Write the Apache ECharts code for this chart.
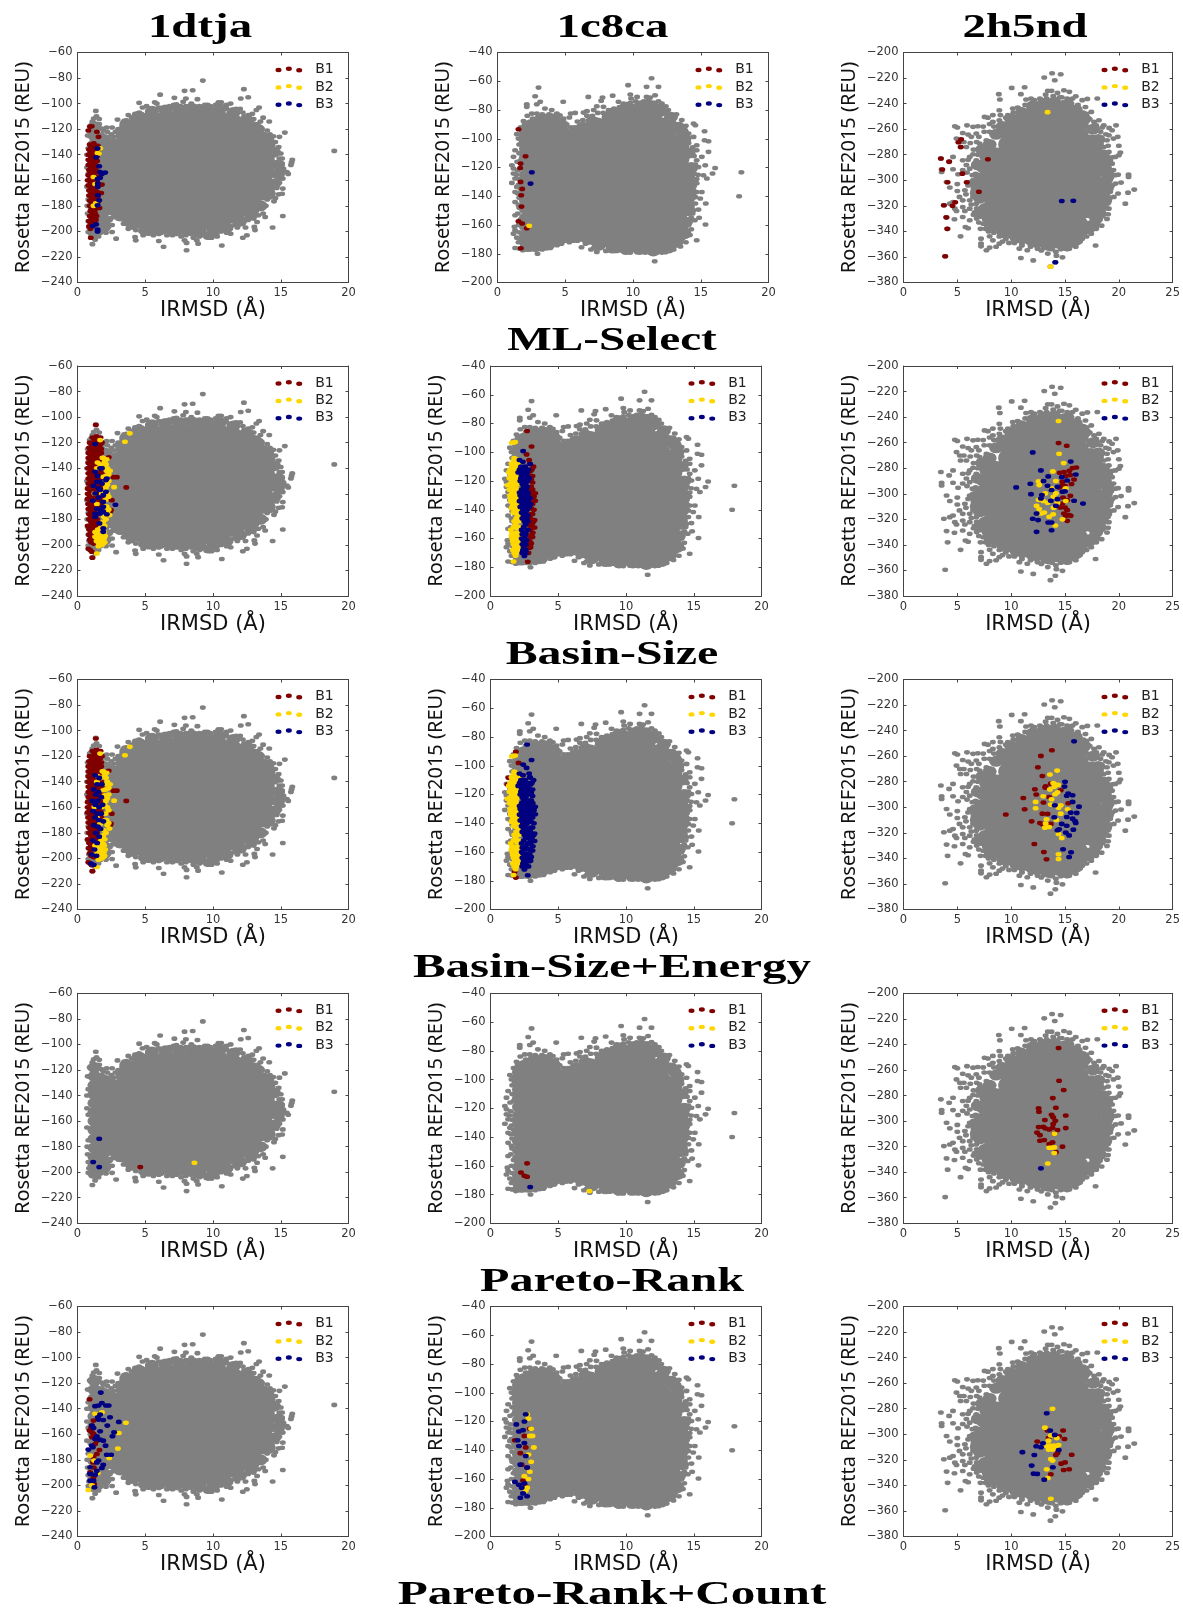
<!DOCTYPE html>
<html><head><meta charset="utf-8">
<style>html,body{margin:0;padding:0;background:#fff}#c{width:1183px;height:1608px}</style>
<script src="https://cdn.jsdelivr.net/npm/echarts@6/dist/echarts.min.js"></script>
</head><body><div id="c"></div>
<script>
const columnTitles=['1dtja','1c8ca','2h5nd'];
const rowTitles=['ML-Select','Basin-Size','Basin-Size+Energy','Pareto-Rank','Pareto-Rank+Count'];
const seriesNames=['B1','B2','B3'];
const seriesColors=['#800000','#FFD700','#000080'];
const grayColor='#808080';
const xMaxes=[20,20,25];
const yRanges=[[-240,-60],[-200,-40],[-380,-200]];

/* ---- decoy clouds: dense interior, edge band, sparse outliers ---- */
const cloudA_core=[[3,-135],[3,-145],[3,-155],[3,-165],[3,-175],[3,-181],[4.2,-120],[4.2,-130],[4.2,-140],[4.2,-150],[4.2,-160],[4.2,-170],[4.2,-180],[4.2,-187],[5.4,-114],[5.4,-124],[5.4,-134],[5.4,-144],[5.4,-154],[5.4,-164],[5.4,-174],[5.4,-184],[5.4,-192],[6.6,-113],[6.6,-123],[6.6,-133],[6.6,-143],[6.6,-153],[6.6,-163],[6.6,-173],[6.6,-183],[6.6,-191],[7.8,-113],[7.8,-123],[7.8,-133],[7.8,-143],[7.8,-153],[7.8,-163],[7.8,-173],[7.8,-183],[7.8,-191],[9,-112],[9,-122],[9,-132],[9,-142],[9,-152],[9,-162],[9,-172],[9,-182],[9,-193],[10.2,-112],[10.2,-122],[10.2,-132],[10.2,-142],[10.2,-152],[10.2,-162],[10.2,-172],[10.2,-182],[10.2,-192],[11.4,-116],[11.4,-126],[11.4,-136],[11.4,-146],[11.4,-156],[11.4,-166],[11.4,-176],[11.4,-186],[12.6,-124],[12.6,-134],[12.6,-144],[12.6,-154],[12.6,-164],[12.6,-174],[12.6,-179],[13.6,-134],[13.6,-144],[13.6,-154],[13.6,-164],[13.6,-168]];
const cloudA_edge=[[1.25,-118],[1.25,-125],[1.25,-132],[1.25,-139],[1.25,-146],[1.25,-153],[1.25,-160],[1.25,-167],[1.25,-174],[1.25,-181],[1.25,-188],[1.25,-195],[1.25,-201],[2,-128],[2,-135],[2,-142],[2,-149],[2,-156],[2,-163],[2,-170],[2,-177],[2,-184],[2,-191],[2,-196],[2.5,-135],[2.5,-145],[2.5,-155],[2.5,-165],[2.5,-175],[2.5,-181],[3.6,-116],[4.5,-110],[5.5,-106],[6.5,-105],[7.5,-105],[8.5,-104],[9.5,-104],[10.5,-104],[11.5,-107],[12.5,-113],[13.3,-120],[14,-128],[14.5,-138],[14.8,-148],[14.8,-155],[14.5,-163],[14.1,-171],[13.5,-180],[12.8,-187],[12,-192],[11,-197],[10,-201],[9,-201],[8,-199],[7,-199],[6,-199],[5,-199],[4,-194],[3.2,-188],[3.3,-125],[3.9,-117],[3.4,-187],[4,-189],[12.9,-118],[13.6,-126]];
const cloudA_dots=[[9.25,-82],[12.28,-88.7],[12.6,-95],[12.05,-96],[7.9,-90],[8.5,-89.5],[6.1,-93],[7.15,-95.5],[8,-96],[7.8,-98.6],[8.4,-100],[8.85,-96.5],[10.4,-99],[10.6,-99],[4.55,-99.4],[5.7,-99],[5.85,-100],[5.1,-102],[4.8,-103],[7.1,-101],[7.3,-100.5],[9.4,-101],[11,-101],[11.3,-100],[12,-104],[11.75,-105],[13.2,-105],[13.4,-103],[12.6,-109],[12.9,-108],[14.15,-114],[13.7,-111],[13.6,-119.5],[14.2,-124],[14.45,-125.5],[14.9,-126],[15.3,-122.7],[14.85,-134],[15.1,-143],[14.85,-147],[15.85,-144],[15.8,-146],[15.75,-148],[15.2,-151],[15.45,-153.5],[15.55,-155],[18.95,-137],[14.95,-158.7],[15.15,-158.7],[14.7,-166],[15.15,-166.5],[15.1,-170.5],[14.85,-171],[14.6,-174],[14.2,-173],[14.5,-176.5],[15.15,-188],[14.4,-197],[13.7,-186],[13.85,-188.7],[13.35,-187.4],[13.25,-192.6],[13.1,-199],[13.05,-196.5],[12.5,-203],[12.2,-205],[11.3,-201.8],[10.65,-211],[9.65,-205],[9.5,-204.5],[8.9,-209.6],[8.8,-207],[8.55,-205],[8.05,-214.8],[8.05,-209],[7.9,-207],[7.65,-204],[6.35,-212],[6,-207.5],[6.85,-201.8],[6.6,-203],[4.25,-204.4],[4.3,-207],[4.85,-203],[5.25,-201.8],[2.85,-205.7],[2.55,-200.5],[2.55,-195],[2.15,-198],[1.55,-204],[1.3,-206.5],[1.1,-210],[.8,-200.5],[1.05,-203],[3.75,-198],[3.4,-194],[2.8,-188.7],[3,-190],[2.55,-182],[2.95,-112.5],[2.55,-118.7],[2.15,-118.7],[1.8,-119.5],[1.35,-105.7],[1.2,-111.7],[2.65,-126],[2.4,-128.7],[3.45,-113.5],[3.75,-109],[4.25,-108],[4.55,-107],[.8,-135],[.8,-155],[.8,-175],[.75,-186],[.85,-125],[1.6,-116],[1.8,-124],[3.2,-121],[3.5,-193],[4.7,-200],[5.6,-203],[6.2,-201],[7.3,-202],[8.4,-202],[9.9,-205],[10.3,-204],[11,-201],[11.8,-197],[12.4,-197],[13,-190],[13.9,-180],[14.3,-168],[14.9,-162],[6,-103],[6.8,-102],[7.6,-102],[8.2,-102],[9.8,-102],[10.2,-101],[10.9,-103],[12.2,-107],[13,-112],[13.5,-114],[14,-121],[14.6,-130],[15,-139],[15.1,-152],
[3.3,-118],[3.6,-113],[4,-111],[4.3,-109],[3,-120],[2.8,-122],[2.5,-124],[2.2,-122],[1.9,-121],[1.6,-112],[1.4,-110],[1.1,-114],[.9,-118],[.75,-125],[.7,-140],[.7,-150],[.7,-165],[.72,-180],[.8,-192],[.85,-197],[1.3,-203],[1.7,-201],[2.1,-201],[2.4,-191],[2.6,-189],[2.7,-184],[3.3,-186],[3.6,-190],[4,-197],[4.3,-199],[4.5,-196],[5,-201],[5.5,-201],[6,-202],[6.5,-200],[7,-203],[7.5,-201],[8,-203],[8.5,-200],[9,-204],[9.5,-202],[10.6,-200],[11.2,-198],[11.6,-195],[12.2,-194],[12.6,-191],[13.2,-184],[13.6,-178],[14,-175],[14.4,-170],[14.7,-160],[15,-155],[15,-150],[15.1,-147],[14.9,-143],[14.7,-139],[14.4,-133],[14.2,-128],[13.8,-124],[13.3,-116],[12.8,-112],[12.3,-110],[11.7,-104],[11,-104],[10.5,-102],[9.6,-101],[9,-102],[8.6,-103],[8,-102],[7,-103],[6.3,-104],[5.6,-104],[5.2,-106],[4.7,-108]];

const cloudB_core=[[2.8,-94],[2.8,-103],[2.8,-112],[2.8,-121],[2.8,-130],[2.8,-139],[2.8,-148],[2.8,-157],[2.8,-166],[2.8,-169],[4,-92],[4,-101],[4,-110],[4,-119],[4,-128],[4,-137],[4,-146],[4,-155],[4,-164],[4,-167],[5.2,-106],[5.2,-115],[5.2,-124],[5.2,-133],[5.2,-142],[5.2,-151],[5.2,-160],[6.4,-100],[6.4,-109],[6.4,-118],[6.4,-127],[6.4,-136],[6.4,-145],[6.4,-154],[6.4,-163],[7.6,-94],[7.6,-103],[7.6,-112],[7.6,-121],[7.6,-130],[7.6,-139],[7.6,-148],[7.6,-157],[7.6,-166],[7.6,-169],[8.8,-90],[8.8,-99],[8.8,-108],[8.8,-117],[8.8,-126],[8.8,-135],[8.8,-144],[8.8,-153],[8.8,-162],[8.8,-171],[10,-86],[10,-95],[10,-104],[10,-113],[10,-122],[10,-131],[10,-140],[10,-149],[10,-158],[10,-167],[10,-172],[11.2,-84],[11.2,-93],[11.2,-102],[11.2,-111],[11.2,-120],[11.2,-129],[11.2,-138],[11.2,-147],[11.2,-156],[11.2,-165],[11.2,-172],[12.4,-92],[12.4,-101],[12.4,-110],[12.4,-119],[12.4,-128],[12.4,-137],[12.4,-146],[12.4,-155],[12.4,-164],[12.4,-172],[13.2,-105],[13.2,-114],[13.2,-123],[13.2,-132],[13.2,-141],[13.2,-150],[13.2,-159],[13.2,-165]];
const cloudB_edge=[[2.1,-95],[2.1,-101],[2.1,-107],[2.1,-113],[2.1,-119],[2.1,-125],[2.1,-131],[2.1,-137],[2.1,-143],[2.1,-149],[2.1,-155],[2.1,-161],[2.1,-167],[2.1,-172],[2.5,-90],[3.2,-87],[4,-86],[4.7,-90],[5,-97],[5.6,-100],[6,-96],[6.7,-93],[7.4,-89],[8.2,-85],[9,-82],[9.8,-79],[10.6,-77],[11.4,-77],[12,-81],[12.8,-85],[13.3,-92],[13.8,-100],[14.1,-110],[14.3,-120],[14.3,-130],[14.2,-140],[14.1,-150],[13.9,-158],[13.8,-166],[13.2,-172],[12.6,-176],[11.5,-178],[10.5,-177],[9.5,-177],[8.5,-176],[7.5,-174],[6.7,-170],[6,-168],[5.2,-168],[4.5,-171],[3.6,-174],[2.8,-175],[2.2,-175],[3,-89],[3.6,-88],[4.3,-88],[5.6,-96],[6.3,-92],[7,-88],[8.5,-82],[9.5,-78],[13.6,-95],[14.1,-125],[14,-145],[14.1,-135]];
const cloudB_dots=[[11.37,-57.9],[9.64,-62.7],[11,-63.9],[11.88,-63.9],[11.63,-69.7],[3.03,-64.4],[2.78,-70.4],[3.15,-74.3],[2.9,-76],[2.16,-76],[2.16,-77.8],[4.85,-74.3],[6.7,-70.9],[7.75,-71.3],[7.65,-73.6],[8.5,-70],[9.8,-69.2],[9.86,-72],[10.3,-70.9],[11,-70.9],[11.27,-71.3],[11.15,-73.2],[11.88,-73.9],[12.13,-75.5],[12.42,-77.4],[8.93,-74.3],[9.3,-75.5],[7.33,-77.4],[7.82,-77.8],[6.6,-80.8],[7.1,-80],[6.35,-81.8],[5.4,-82.5],[5.73,-82],[5.3,-85.2],[4,-80],[4.38,-82.5],[3.5,-79],[2.9,-82.5],[2.53,-82.5],[4.6,-83.6],[4.87,-86],[1.92,-87.6],[1.43,-96.8],[1.55,-99.9],[1.3,-108],[1.18,-112.6],[1.06,-118.4],[1.18,-120.7],[1.06,-130.7],[1.3,-127.7],[1.18,-124.2],[1.3,-137],[1.43,-133.5],[1.3,-144],[1.3,-153.2],[1.25,-161.3],[1.18,-166],[1.43,-168.8],[1.3,-163.7],[1.3,-176],[1.6,-176.4],[1.87,-177.6],[2.95,-180],[3.64,-175.3],[4,-174.8],[4.72,-173],[6.2,-175.5],[6.9,-177],[7.33,-178.7],[8.3,-177.6],[9.05,-177.6],[9.8,-179.2],[10.9,-179.2],[11.6,-185.2],[12.13,-179.2],[12.8,-177],[13.6,-169.7],[14.7,-170.6],[15.35,-159.7],[14.56,-156.7],[14.88,-155],[14.47,-149.7],[14.34,-147.4],[14.83,-149.3],[15.37,-145],[14.96,-141.6],[14.6,-140.5],[15.08,-137],[14.47,-135.8],[17.83,-140],[18,-123.3],[16.06,-120.3],[15.87,-124.2],[15.45,-127.7],[15.2,-125.4],[14.83,-119.6],[15.33,-118.4],[15.57,-109.1],[15.08,-112.6],[14.7,-108],[15.57,-101.7],[15.28,-101],[15.28,-94.8],[14.47,-89.4],[14.6,-90.6],[13.6,-87],[14.1,-96.4],[13.85,-95.2],[14.47,-98.7],[14.7,-104.5],[13,-84.8],[12.42,-82.5],[1.6,-104],[1.7,-115],[1.5,-122],[1.6,-128],[1.7,-135],[1.6,-141],[1.6,-148],[1.7,-156],[1.55,-172],[2,-90],[3.3,-83],[3.9,-84],[14.7,-115],[14.8,-125],[14.7,-131],[14.6,-145],[14.3,-155],[14.3,-163],[13.5,-175],[12.4,-179],[3.3,-177],[5,-171],[5.6,-171],[6.5,-173],
[2.2,-84],[2.6,-86],[3,-85],[3.4,-84],[3.8,-83],[4.2,-85],[4.5,-87],[4.8,-89],[5.1,-90],[5.4,-92],[5.7,-92],[5.9,-88],[6.3,-87],[6.6,-84],[7,-84],[7.4,-82],[7.8,-82],[8.2,-80],[8.6,-79],[9,-78],[9.4,-76],[9.8,-75],[10.2,-74],[10.8,-74],[11.6,-75],[12,-77],[12.6,-80],[13.2,-83],[13.5,-90],[13.9,-91],[14.1,-103],[14.4,-106],[14.5,-112],[14.6,-118],[14.5,-124],[14.7,-128],[14.5,-133],[14.7,-137],[14.3,-143],[14.4,-152],[14.1,-160],[14.2,-167],[13.9,-172],[13,-177],[1.9,-94],[1.8,-98],[1.75,-103],[1.6,-110],[1.45,-116],[1.4,-125],[1.55,-132],[1.5,-138],[1.55,-146],[1.5,-152],[1.55,-160],[1.6,-165],[1.7,-170],[1.9,-174],[2.4,-177],[3.9,-176],[4.4,-174],[5.3,-172],[5.9,-171],[6.5,-171],[7.1,-176],[8,-178],[8.8,-178],[9.4,-179],[10.3,-179],[11.2,-179],[11.8,-179],[5,-93],[1.7,-92],[1.75,-128]];

const cloudC_core=[[8.5,-282],[8.5,-292],[8.5,-302],[8.5,-312],[8.5,-322],[8.5,-328],[10,-262],[10,-272],[10,-282],[10,-292],[10,-302],[10,-312],[10,-322],[10,-332],[10,-338],[11.5,-252],[11.5,-262],[11.5,-272],[11.5,-282],[11.5,-292],[11.5,-302],[11.5,-312],[11.5,-322],[11.5,-332],[11.5,-342],[13,-247],[13,-257],[13,-267],[13,-277],[13,-287],[13,-297],[13,-307],[13,-317],[13,-327],[13,-337],[13,-345],[14.5,-246],[14.5,-256],[14.5,-266],[14.5,-276],[14.5,-286],[14.5,-296],[14.5,-306],[14.5,-316],[14.5,-326],[14.5,-336],[14.5,-346],[16,-255],[16,-265],[16,-275],[16,-285],[16,-295],[16,-305],[16,-315],[16,-325],[16,-335],[16,-338],[17.4,-272],[17.4,-282],[17.4,-292],[17.4,-302],[17.4,-312],[17.4,-322]];
const cloudC_edge=[[7.4,-290],[7.2,-298],[7,-306],[7.1,-314],[7.6,-322],[7.9,-330],[8.5,-336],[9.3,-341],[10.5,-345],[12,-348],[13.5,-351],[15,-351],[16,-347],[17,-338],[17.9,-330],[18.4,-320],[18.6,-310],[18.8,-300],[18.7,-290],[18.5,-280],[18.1,-268],[17.6,-260],[16.8,-252],[16,-245],[15,-241],[14,-239],[13,-240],[12,-242],[11,-247],[10,-252],[9.2,-258],[8.6,-264],[8,-272],[7.7,-282],[7.3,-276],[6.9,-288],[6.7,-302],[6.8,-310],[7.2,-326],[7.7,-292],[8.1,-335],[18.9,-294],[18.9,-306],[18.7,-316],[18.2,-326],[17.6,-335],[18.8,-284]];
const cloudC_dots=[[13.8,-216.2],[14.6,-217],[13.07,-219.6],[14.05,-221.7],[10.05,-227.7],[11.25,-227.2],[8.85,-232.6],[8.95,-236.8],[10.9,-232.6],[11.38,-236.8],[11.84,-236],[12.67,-236],[13.4,-230],[13.75,-230],[14.3,-231.6],[14.9,-229.5],[15.4,-230.8],[16,-234.2],[15.7,-236],[16.6,-237.3],[17.07,-236.3],[18,-236],[16.9,-242.6],[17.44,-246.5],[18.15,-253],[17.7,-254.3],[18.6,-257],[18.45,-258.7],[19.74,-257],[19.1,-259],[19.37,-260.8],[19.9,-266],[19.5,-267.4],[19.07,-264.8],[20,-273],[20.14,-278.3],[19.68,-281.7],[19.37,-287],[20,-280.4],[18.6,-274],[19.07,-277.8],[18.9,-268.7],[19.93,-295.6],[19.68,-296],[20.9,-295.6],[20.9,-297.4],[21.43,-307.3],[20.85,-309.7],[20.6,-318.3],[20.2,-301.8],[19.7,-302.6],[19.93,-310.4],[19.53,-313],[19.07,-306.5],[19.2,-313.6],[19.07,-322.2],[19,-326.6],[18.9,-330.3],[18.4,-335.5],[17.84,-351],[17.44,-336.6],[17.44,-341.8],[16.6,-345.7],[16.76,-341.8],[15.4,-353.5],[14.76,-360.3],[14.1,-364.2],[13.65,-367.6],[13.4,-357.4],[14.15,-356],[12.05,-362.7],[10.9,-360.8],[10.76,-353.5],[11.5,-354.8],[12.45,-353.5],[8.9,-349.6],[8.6,-352],[8,-352.7],[7.7,-354.8],[7.2,-345.7],[7.2,-349.6],[7.2,-351.7],[8,-343.9],[8.3,-347],[7.15,-338],[5.3,-343.9],[5.75,-336.6],[6,-337.6],[7.2,-327.4],[6.15,-331.3],[4.73,-330.5],[4,-329.2],[4.1,-338],[3.87,-359.5],[3.75,-319.6],[4.6,-317],[4.3,-318.3],[4.77,-322.2],[4.92,-324],[5.2,-313],[5.5,-315.7],[5.5,-321],[4,-301.3],[4.3,-305.7],[5,-303],[5,-308.4],[3.47,-283],[3.54,-291.4],[3.54,-293.5],[4.6,-291.4],[5.07,-295.3],[4.6,-281.7],[4.24,-285.6],[4.77,-257.7],[5,-258.7],[5.9,-257],[6.46,-258.2],[6.9,-257.7],[4.92,-267.4],[5.23,-270],[5.5,-263],[6,-264.2],[5.3,-273.9],[5.84,-273.9],[6.2,-270.8],[7.53,-250.4],[7.84,-251],[8.3,-249],[8.9,-245.2],[7.4,-258],[6.76,-263.4],[7.07,-271.3],[7.7,-268.7],[5.5,-284.3],[6.15,-281.7],[6.46,-279.6],[5.84,-288],[5.5,-292],[6.15,-290.9],[6.76,-284.3],[7.2,-276.5],[5.7,-307.8],[6.15,-301.3],[6.46,-313],[6.15,-315.7],[6.76,-318.3],[6.15,-322.2],[5.5,-328.7],[6.46,-300],[10.15,-243.9],[10.6,-243],[9.7,-249],[8.3,-254.3],[8.9,-253],[12.15,-237.3],[13.2,-233],[14.7,-235],[15.5,-238],[17,-248],[18.3,-262],[19,-290],[19.3,-298],[19,-318],[18.6,-326],[17.9,-338],[16,-352],[14.2,-359],[12.8,-355],[11,-351],[9.5,-346],[7.9,-340],[7,-333],[6.6,-325],[6.5,-306],[6.7,-295],[6.9,-280],[8,-262],[9,-256],[9.7,-255],
[5.6,-270],[6.3,-266],[6.8,-270],[6.5,-276],[7,-266],[7.5,-262],[8,-256],[8.4,-258],[6,-284],[6.6,-288],[7,-290],[5.9,-294],[6.4,-296],[6.8,-300],[6,-304],[6.5,-308],[6.9,-311],[5.8,-311],[6.3,-319],[6.8,-322],[5.7,-324],[6.5,-327],[7,-325],[6.8,-330],[7.4,-334],[7.6,-338],[8,-338],[8.4,-341],[8.9,-344],[9.2,-348],[9.8,-349],[10.3,-349],[11,-349],[11.8,-352],[12.3,-351],[13,-353],[13.8,-354],[14.6,-354],[15.2,-354],[15.8,-351],[16.4,-348],[17,-344],[17.5,-339],[18,-334],[18.5,-328],[18.9,-322],[19.1,-316],[19.2,-309],[19.4,-304],[19.3,-295],[19.5,-292],[19.2,-285],[19.4,-282],[19,-273],[18.8,-264],[18.4,-268],[17.9,-257],[17.3,-252],[16.7,-247],[16.2,-241],[15.6,-240],[15.2,-236],[14.5,-235],[13.9,-234],[13.3,-236],[12.8,-239],[12,-239],[11.3,-241],[10.8,-244],[10.2,-247],[9.5,-251],[9,-249]];

/* ---- selected points: row r (1-5), column c (1-3) ---- */
const r1c1B1=[[.98,-205],[.8,-121],[.93,-118],[1.05,-117.7],[1.43,-122],[1.55,-126],[1.8,-163.4],[1.75,-170],[1.62,-181.7],[.9,-132],[1.2,-131],[1.5,-133],[.85,-136],[1.15,-136],[1.5,-137],[.8,-140],[1.1,-140],[1.45,-141],[.8,-144],[1.15,-144],[1.45,-145],[.8,-148],[1.1,-148],[1.4,-149],[.85,-152],[1.15,-152],[1.45,-153],[.8,-156],[1.1,-156],[1.5,-157],[.75,-160],[1.1,-160],[1.45,-161],[.8,-164],[1.15,-164],[1.5,-165],[.85,-168],[1.15,-168],[1.45,-169],[.85,-172],[1.2,-172],[1.5,-173],[.9,-176],[1.2,-176],[1.5,-177],[.9,-180],[1.2,-180],[1.45,-181],[.95,-184],[1.25,-184],[.9,-188],[1.2,-188],[1.4,-188],[.85,-192],[1.15,-192],[1.35,-191],[.85,-196],[1.1,-196],[.95,-198],
[1,-134],[1.35,-134],[.95,-138],[1.3,-138],[1,-142],[1.3,-142],[.95,-146],[1.3,-146],[1,-150],[1.3,-150],[.95,-154],[1.3,-154],[.95,-158],[1.3,-158],[.95,-162],[1.3,-162],[1,-166],[1.35,-166],[1,-170],[1.35,-170],[1.05,-174],[1.35,-174],[1.05,-178],[1.35,-178],[1.05,-182],[1.35,-182],[1.1,-186],[1.05,-190],[1.3,-186],[1,-194],[1.25,-194]];
const r1c1B2=[[1.67,-135],[1.48,-138.6],[1.57,-139],[1.18,-157.4],[1.3,-163],[1.18,-180],[1.35,-178]];
const r1c1B3=[[1.48,-135],[1.38,-142],[1.6,-149],[1.67,-153.5],[2.04,-154],[1.8,-155],[1.67,-158],[1.48,-159],[1.5,-162.6],[1.48,-165],[1.5,-171.7],[1.6,-175.7],[1.48,-179.6],[1.38,-194.5],[1.13,-195.8],[1.48,-198.6],[1.48,-200]];
const r1c2B1=[[1.55,-93.4],[2.07,-112.2],[1.7,-117.3],[1.67,-120.3],[1.7,-130],[1.82,-134.9],[1.75,-139.3],[1.77,-147.2],[1.55,-157.4],[1.82,-159],[2.16,-162.3],[1.72,-176.2]];
const r1c2B2=[[2.34,-160.6]];
const r1c2B3=[[2.53,-123.3],[2.44,-131.2]];
const r1c3B1=[[5.35,-268],[5.1,-270.2],[5.32,-274],[3.47,-283],[4.24,-285.4],[3.6,-291.6],[5.47,-294.8],[4.09,-301.6],[5.87,-301.6],[7,-309],[7.84,-283.6],[4.8,-317.2],[4.55,-320],[3.75,-319.6],[3.97,-329],[4.06,-338],[3.87,-359.5]];
const r1c3B2=[[13.38,-246.7],[13.65,-367.6]];
const r1c3B3=[[14.7,-316.2],[15.77,-316],[14.1,-364.2]];

const r2c1B1=[[1.35,-106.2],[1.1,-210],[.93,-204],[1.05,-205.4],[.8,-203],[2.65,-147],[2.9,-147],[3.6,-155],[2.3,-131.5],[2.53,-165],[2.46,-172.8],[2.4,-174],[1.1,-116],[1.4,-115],[1.7,-116],[.9,-120],[1.2,-120],[1.5,-120],[1.8,-120],[.85,-124],[1.15,-124],[1.45,-124],[1.75,-125],[.8,-128],[1.1,-128],[1.4,-128],[1.75,-128],[.8,-132],[1.1,-132],[1.4,-132],[1.7,-132],[.8,-136],[1.1,-136],[1.4,-136],[1.8,-136],[.78,-140],[1.1,-140],[1.4,-140],[1.75,-140],[.8,-144],[1.1,-144],[1.4,-144],[1.8,-144],[.8,-148],[1.1,-148],[1.4,-148],[1.8,-148],[.8,-152],[1.1,-152],[1.4,-152],[1.9,-152],[.75,-156],[1.1,-156],[1.4,-156],[1.8,-156],[.75,-160],[1.1,-160],[1.4,-160],[1.8,-160],[.75,-164],[1.05,-164],[1.4,-164],[1.8,-164],[.78,-168],[1.1,-168],[1.4,-168],[1.75,-168],[.8,-172],[1.1,-172],[1.4,-172],[1.7,-172],[.85,-176],[1.15,-176],[1.45,-176],[.85,-180],[1.15,-180],[1.45,-180],[.75,-185],[1.1,-184],[1.4,-184],[.85,-188],[1.15,-188],[1.4,-188],[.85,-192],[1.1,-192],[1.35,-191],[.9,-196],[1.15,-196],
[1.25,-118],[1.55,-118],[1.05,-122],[1.35,-122],[1.65,-122],[.95,-126],[1.3,-126],[1.6,-126],[.95,-130],[1.25,-130],[1.6,-130],[.95,-134],[1.25,-134],[1.6,-134],[.95,-138],[1.25,-138],[1.6,-138],[.95,-142],[1.25,-142],[1.6,-142],[.95,-146],[1.25,-146],[1.6,-146],[.95,-150],[1.25,-150],[1.6,-150],[.95,-154],[1.25,-154],[1.6,-154],[.95,-158],[1.25,-158],[1.6,-158],[.9,-162],[1.25,-162],[1.6,-162],[.95,-166],[1.25,-166],[1.6,-166],[.95,-170],[1.25,-170],[1.55,-170],[1,-174],[1.3,-174],[1.55,-174],[1,-178],[1.3,-178],[1,-182],[1.3,-182],[1,-186],[1.3,-186],[1,-190],[1.25,-190],[1,-194],[1.25,-194],[1,-198],[1.2,-199]];
const r2c1B2=[[3.86,-112.7],[3.5,-119.3],[1.67,-118],[1.84,-131.8],[2,-135],[1.48,-135.5],[2.4,-142],[2.15,-142],[2.7,-154.8],[1.9,-146.7],[2,-150.6],[2.1,-155],[1.8,-159.7],[2.3,-162.3],[1.43,-168],[1.67,-172.8],[2.3,-172.3],[2.36,-176.7],[1.8,-183],[1.9,-188.5],[1.43,-191],[1.67,-192.4],[2.04,-193],[1.3,-193.7],[1.55,-198.4],[1.8,-200],[1.43,-206.7],[1.7,-199],[1.97,-190],[2.15,-133],[1.67,-137],[1.43,-140],[1.25,-159.7],[1.6,-195],[1.4,-197],[1.85,-196],[2,-198],[1.6,-188],[1.75,-186],[2.15,-170],[2.05,-165],
[1.9,-132],[2.1,-137],[2.2,-140],[2.3,-145],[2.1,-146],[2.3,-150],[2.2,-153],[2,-158],[2.2,-160],[2.05,-170],[2.2,-174],[1.95,-178],[2.1,-180],[1.9,-182],[2,-185],[1.85,-191],[1.5,-188],[1.3,-190],[1.5,-194],[1.75,-194],[1.95,-195],[1.65,-197],[1.9,-199],[1.55,-201]];
const r2c1B3=[[1.3,-121],[1.67,-140],[1.8,-140],[1.3,-142.8],[2.16,-148],[2.1,-149.3],[1.48,-146],[1.43,-150.6],[1.67,-150.6],[1.8,-152],[1.18,-153.7],[1.55,-155.8],[1.67,-157],[1.3,-159.7],[2.1,-158.4],[1.9,-161],[1.55,-163],[1.13,-165.5],[1.9,-166.3],[2.8,-168.6],[1.9,-170.2],[1.43,-171.5],[1.67,-172.8],[1.3,-175.4],[2.16,-176],[1.67,-175.4],[1.9,-174],[1.3,-178],[1.62,-183.2],[1.9,-187],[1.9,-189.8]];
const r2c2B1=[[2.7,-85.2],[3.03,-96],[2.66,-101.5],[2.85,-105.4],[3.17,-110],[3.1,-116.6],[3,-124],[3.3,-128.6],[3.15,-130],[3.3,-133.7],[3.1,-143],[3.25,-147.2],[3.17,-148.4],[3.25,-152.3],[3.12,-156],[3,-163.4],[2.88,-166.4],[2.75,-176.2],[2.95,-113],[3,-119],[2.9,-128],[3,-135],[3,-139],[2.95,-146],[2.9,-151],[3,-159],[2.85,-158],[2.9,-162],[2.8,-165],[2.95,-154],
[2.9,-108],[3.05,-112],[2.85,-116],[3.1,-121],[2.95,-126],[3.1,-126],[3.2,-131],[2.95,-132],[3.1,-136],[3.2,-140],[3,-143],[3.05,-150],[3.1,-152],[3.1,-159],[2.95,-166],[2.8,-170]];
const r2c2B2=[[1.57,-93.4],[1.82,-92.9],[1.7,-93.3],[1.7,-176],[1.75,-104],[1.95,-105],[1.55,-108],[1.85,-108],[2.1,-108],[1.45,-112],[1.75,-112],[2.05,-112],[1.5,-116],[1.8,-116],[2.05,-116],[1.6,-120],[1.9,-120],[1.25,-123],[1.55,-124],[1.85,-124],[1.6,-128],[1.9,-128],[1.5,-132],[1.85,-132],[1.65,-136],[1.9,-136],[1.55,-139],[1.8,-140],[2.05,-140],[1.9,-146],[2.15,-145],[1.85,-150],[2.1,-152],[1.6,-156],[1.95,-156],[1.6,-160],[1.9,-160],[2.15,-158],[1.7,-164],[2,-164],[2.15,-162],[1.75,-168],[2,-168],[1.85,-172],[1.75,-170],
[1.7,-106],[2,-110],[1.6,-110],[1.35,-114],[1.65,-114],[1.95,-114],[1.4,-118],[1.7,-118],[1.95,-118],[1.45,-122],[1.75,-122],[2,-122],[1.4,-126],[1.7,-126],[2,-126],[1.45,-130],[1.75,-130],[2.05,-130],[1.5,-134],[1.8,-134],[1.6,-138],[1.9,-138],[1.7,-142],[1.95,-143],[1.75,-148],[2.1,-148],[1.7,-152],[1.95,-153],[1.5,-154],[1.55,-158],[1.8,-158],[2.05,-160],[1.65,-162],[1.95,-162],[1.8,-166],[2.1,-166],[1.65,-168],[1.9,-170]];
const r2c2B3=[[2.41,-99.2],[2.14,-105.4],[2.39,-106.6],[2.93,-108.2],[2.5,-172.2],[2.25,-110],[2.55,-110],[2.05,-114],[2.35,-114],[2.7,-114],[2.25,-118],[2.55,-118],[2.85,-118],[2.35,-122],[2.6,-122],[2.3,-126],[2.6,-126],[2.2,-130],[2.5,-130],[2.75,-130],[2.15,-134],[2.45,-134],[2.75,-134],[2.2,-138],[2.5,-138],[2.85,-138],[2.3,-142],[2.6,-142],[2.35,-146],[2.65,-146],[2.6,-150],[2.75,-154],[2.3,-154],[2.55,-158],[2.3,-160],[2.5,-162],[2.35,-164],[2.6,-164],[2.4,-168],[2.6,-168],
[2.15,-112],[2.5,-112],[2.8,-112],[2.3,-116],[2.65,-116],[2.2,-120],[2.5,-120],[2.75,-120],[2.45,-124],[2.7,-124],[2.15,-128],[2.45,-128],[2.75,-128],[2.3,-132],[2.6,-132],[2.9,-132],[2.35,-136],[2.65,-136],[2.95,-136],[2.4,-140],[2.7,-140],[2.45,-144],[2.75,-144],[2.5,-148],[2.75,-148],[2.45,-152],[2.6,-156],[2.35,-157],[2.4,-161],[2.65,-161],[2.45,-166],[2.35,-170],[2.6,-170]];

const r3c1B1=r2c1B1;
const r3c1B2=r2c1B2;
const r3c1B3=[[1.3,-135],[1.6,-137],[1.45,-142],[1.8,-142],[1.2,-146],[1.55,-148],[1.35,-150],[1.75,-152],[1.1,-155],[1.5,-155],[1.3,-158],[1.85,-158],[1.6,-160],[1.15,-163],[1.45,-165],[1.75,-165],[1.3,-168],[1.55,-170],[1.9,-171],[1.2,-174],[1.5,-175],[1.7,-177],[1.35,-180],[1.6,-183],[1.15,-186],[1.45,-188],[1.25,-193],[1.05,-197],[1.4,-198],[1,-204],[1.2,-205]];
const r3c2B1=[[1.87,-90.3],[2.07,-98],[1.33,-108.4],[1.25,-113],[1.87,-177.8],[1.77,-173.9],[2.07,-158.3],[2.39,-106.6],[3.1,-126.3]];
const r3c2B2=r2c2B2;
const r3c2B3=r2c2B3.concat(r2c2B1);
const r3c3B1=[[13.78,-255.4],[12.76,-259.8],[12.48,-268.7],[12.9,-275.5],[13.68,-281.5],[13.2,-283.6],[13.16,-284.6],[14.6,-286.7],[12.2,-285.9],[12.33,-290],[11.13,-292.7],[13.53,-292],[13,-296.3],[15.3,-296.9],[11.25,-301.6],[9.5,-305.7],[12.9,-305],[13.38,-305.2],[11.9,-311],[12.67,-312.3],[12.9,-313.3],[13.68,-313],[12.15,-328.7],[13.04,-335],[13.28,-340.7]];
const r3c3B2=[[14.27,-271.3],[13.6,-274.4],[13.9,-281],[14.08,-282.2],[14.36,-282.5],[14,-284],[13.6,-286],[14.3,-288.3],[14.08,-289.8],[12.98,-291.4],[13.75,-293.7],[12.27,-295.8],[13.68,-297.9],[14.6,-298.4],[14.4,-300.3],[15.25,-301.6],[12.27,-300.8],[14.6,-305],[13.28,-309.4],[14.2,-310],[13.2,-312.8],[13.53,-315.4],[13.13,-316],[14.4,-320.9],[14.7,-324],[14.4,-336.8],[14.4,-340.5]];
const r3c3B3=[[15.84,-248.3],[15,-280],[14.95,-283.8],[15.3,-289.3],[15.16,-291],[15.7,-290.6],[15.7,-295.8],[16.3,-299.5],[14.05,-298.4],[15.53,-304.2],[16.08,-304.4],[15.16,-307.6],[14,-307.8],[15.7,-308.9],[15.93,-310.7],[16,-312.3],[14.7,-313],[15.16,-314.4],[14.45,-317.2],[14.3,-318],[15.77,-317.5],[15.07,-319.8],[15.38,-322],[14.82,-332.9],[15.56,-335.2],[15.38,-338.9]];
const r2c3B1=[[14.4,-260.3],[15.16,-262.4],[16.05,-279.4],[15.7,-279.9],[15.4,-282],[14.9,-283],[14.5,-283.6],[15.07,-286],[15.5,-285.4],[15.84,-288.8],[14.76,-290.6],[15.6,-292.4],[14.76,-293.2],[14.45,-295],[15,-294],[15.5,-301.6],[14.82,-302.9],[15.2,-305],[14.76,-307.6],[14.55,-310.7],[15,-310.7],[15.2,-312.8],[14.9,-315.4],[15.38,-316.7],[15.07,-317.2],[15.53,-317.2],[15.2,-321.2]];
const r2c3B2=[[14.4,-243],[14.45,-268.7],[14.88,-276],[13.87,-282.5],[14.15,-290],[12.55,-290.3],[12.6,-293.2],[15.07,-295.8],[13.75,-295.8],[13.16,-299.7],[14.15,-299.7],[13.93,-302.3],[12.55,-304.7],[12.98,-305.7],[13.38,-307],[14.3,-307],[15.07,-305.7],[13.93,-311],[12.36,-309.4],[12.6,-312],[12.75,-315.4],[13.07,-314.6],[13.53,-318],[13.9,-316],[14.76,-320],[14.1,-324.8]];
const r2c3B3=[[12,-267.6],[15.53,-274.7],[12.76,-281.7],[16,-284.9],[13.44,-286.4],[14.7,-287],[13,-290],[15.2,-289.6],[11.78,-292.2],[13.38,-293.7],[10.46,-295],[14.3,-294.5],[13.75,-297],[14.76,-298.4],[15,-298],[11.84,-300.3],[12.85,-301],[12.76,-303.7],[14.3,-304.2],[13.68,-305.5],[15.84,-305.5],[16.67,-307.6],[14.15,-309.4],[12.36,-315.4],[12,-319.6],[12.5,-320.6],[13.75,-322.5],[13.44,-322.5],[12.36,-329.8],[13.75,-328.5]];

const r4c1B1=[[4.63,-196]];
const r4c1B2=[[8.63,-192.6]];
const r4c1B3=[[1.6,-173.8],[1.16,-192],[1.6,-196]];
const r4c2B1=[[2.7,-158.3],[2.25,-164.7],[2.7,-167.6],[2.5,-167]];
const r4c2B2=[[7.3,-177.6]];
const r4c2B3=[[2.93,-174.7]];
const r4c3B1=[[14.4,-242.8],[14.45,-268.4],[14.88,-275.7],[13.87,-282],[14.15,-289.6],[12.55,-290],[12.58,-292.7],[15.07,-295.6],[13.75,-295],[13.13,-299.2],[13.9,-297.1],[14.1,-299.7],[13.9,-302.3],[12.98,-304.4],[12.55,-304.7],[13.16,-305.7],[13.53,-306.5],[13.84,-305.2],[14.3,-307],[15.07,-305.5],[12.4,-309],[12.67,-311],[13.07,-314.9],[12.67,-315.4],[13.53,-318],[13.84,-316.7],[14.76,-320],[14.15,-324.3],[14,-310]];
const r4c3B2=[[14.02,-310],[13.53,-320.9],[13.7,-320.9],[14,-320.6],[14,-325],[13.4,-333.2]];
const r4c3B3=[[12.76,-337]];

const r5c1B1=[[.89,-132.6],[1.18,-149.3],[1.06,-153.2],[.89,-157],[1.18,-159.7],[1.06,-162.3],[1.43,-165],[1.3,-167.6],[1.62,-172.3],[1.43,-175.4],[1.18,-178],[.93,-189.8],[1.18,-193.7],[1.23,-199],[1.25,-161],[1.06,-158.4],[1,-155],[1.3,-163],[1.15,-182],[1.2,-186]];
const r5c1B2=[[3.57,-151],[3.05,-159],[2.98,-171.2],[1.8,-142.8],[1.3,-144],[2.34,-178.5],[.8,-203.6],[1.23,-180.6],[.93,-185.8],[1.06,-200],[1.5,-190.3],[.93,-176.7]];
const r5c1B3=[[1.72,-127.4],[1.8,-135.5],[1.3,-138],[1.55,-137.5],[2.1,-137.5],[2.3,-137.5],[1.67,-144.6],[1.5,-146.7],[1.55,-148.5],[1.9,-148.8],[2.4,-146.7],[3.05,-150.3],[2.2,-153.2],[1.67,-157.6],[1.18,-155],[2.7,-158.4],[2.58,-161.6],[1.43,-161.6],[1.3,-163.7],[1.9,-165],[1.67,-164.2],[2.07,-168.9],[1.13,-170.2],[.8,-172],[2.16,-176],[2.48,-176],[1.06,-168.9],[1.55,-180.6],[1.43,-182],[1.9,-183.8],[1.8,-186.4],[.93,-185.8],[1.43,-188.5],[.93,-191],[1.3,-191.6],[.93,-196.3],[1.18,-196.3],[1.25,-201.5],[1.06,-153.2]];
const r5c2B1=[[1.8,-133],[2.5,-130],[2.6,-138],[2.3,-150],[2.7,-152],[2.4,-161],[2.6,-165],[2.9,-125],[2.2,-142]];
const r5c2B2=[[3,-125],[3.2,-138],[3,-148],[2.9,-155],[2.8,-160],[2.7,-166],[2.6,-168],[2.9,-130],[2.7,-115],[2.8,-143],[3.1,-130],[2.5,-158],[2.8,-118]];
const r5c2B3=[[2.6,-115],[1.9,-122],[2.1,-127],[2.4,-126],[2.1,-137],[2.5,-135],[2.6,-144],[2.2,-150],[1.8,-162],[2.1,-164],[2.3,-166],[2.5,-163],[2.4,-170],[2.2,-173],[2.7,-152],[2,-133],[2.5,-120],[2.7,-172]];
const r5c3B1=[[12.42,-305.7],[13.38,-297],[13.47,-303],[14.45,-301.6],[14.82,-297],[14.95,-303.7],[14.3,-314.6],[14.15,-316.2],[15.62,-316],[14.64,-323],[15,-322],[14.88,-328],[15.38,-327.4],[13.68,-331.3]];
const r5c3B2=[[13.84,-280],[13.13,-294.8],[13.68,-301],[13.47,-305],[14.24,-303],[13.28,-308.9],[13.6,-308.9],[14,-308.9],[14.4,-308.4],[13.47,-312],[13.84,-312],[14.15,-310.2],[13.68,-319.3],[13.84,-320.6],[13.3,-327.4],[13.4,-334.2],[13.68,-350.4]];
const r5c3B3=[[13.3,-283.6],[13.62,-297],[14.05,-300.5],[12.95,-307],[12.33,-309.4],[12.76,-310.2],[14.42,-312.3],[11.04,-314],[12.15,-316.2],[11.9,-324.5],[12.08,-330.8],[12.42,-331],[13.87,-325.8],[13.07,-335.5]];

const clouds=[[cloudA_core,cloudA_edge,cloudA_dots],[cloudB_core,cloudB_edge,cloudB_dots],[cloudC_core,cloudC_edge,cloudC_dots]];
const selected=[
 [[r1c1B1,r1c1B2,r1c1B3],[r1c2B1,r1c2B2,r1c2B3],[r1c3B1,r1c3B2,r1c3B3]],
 [[r2c1B1,r2c1B2,r2c1B3],[r2c2B1,r2c2B2,r2c2B3],[r2c3B1,r2c3B2,r2c3B3]],
 [[r3c1B1,r3c1B2,r3c1B3],[r3c2B1,r3c2B2,r3c2B3],[r3c3B1,r3c3B2,r3c3B3]],
 [[r4c1B1,r4c1B2,r4c1B3],[r4c2B1,r4c2B2,r4c2B3],[r4c3B1,r4c3B2,r4c3B3]],
 [[r5c1B1,r5c1B2,r5c1B3],[r5c2B1,r5c2B2,r5c2B3],[r5c3B1,r5c3B2,r5c3B3]]
];

/* ---- layout ---- */
const gridTops=[52.5,366,679.5,993.3,1306.5];
const gridH=230, gridW=271;
const gridLeft=(r,c)=>c===0?77.5:(c===2?903.5:(r===0?497.5:490.5));
const ELL='path://M0,-1A1,1 0 1 1 0,1A1,1 0 1 1 0,-1Z';
const LEGEND_ICON='path://M0,35a30,22 0 1 0 60,0a30,22 0 1 0 -60,0ZM103.5,22a30,22 0 1 0 60,0a30,22 0 1 0 -60,0ZM207,38a30,22 0 1 0 60,0a30,22 0 1 0 -60,0Z';
const sizes={core:[26,20],edge:[14,11],dot:[6,4.6]};
const axisColor='#444';
const tickFont={fontFamily:'DejaVu Sans',fontSize:11.5,color:'#333'};

const option={animation:false,backgroundColor:'#fff',grid:[],xAxis:[],yAxis:[],series:[],legend:[],graphic:[]};
selected.forEach((row,r)=>row.forEach((sets,c)=>{
  const g=option.grid.length, l=gridLeft(r,c), t=gridTops[r];
  option.grid.push({left:l,top:t,width:gridW,height:gridH,show:false});
  const [yMin,yMax]=yRanges[c];
  const xIdx=option.xAxis.length, yIdx=option.yAxis.length;
  const line={show:true,onZero:false,lineStyle:{color:axisColor,width:1}};
  option.xAxis.push({gridIndex:g,type:'value',position:'bottom',min:0,max:xMaxes[c],interval:5,
    name:'IRMSD (Å)',nameLocation:'middle',nameGap:13,
    nameTextStyle:{fontFamily:'DejaVu Sans',fontSize:21,color:'#111',verticalAlign:'top'},
    axisLine:line,splitLine:{show:false},
    axisTick:{show:true,inside:true,length:3,lineStyle:{color:axisColor}},
    axisLabel:{...tickFont,margin:5,showMinLabel:true,showMaxLabel:true}});
  option.xAxis.push({gridIndex:g,type:'value',position:'top',min:0,max:xMaxes[c],interval:5,
    axisLine:line,splitLine:{show:false},
    axisTick:{show:true,inside:true,length:3,lineStyle:{color:axisColor}},axisLabel:{show:false}});
  option.yAxis.push({gridIndex:g,type:'value',position:'left',min:yMin,max:yMax,interval:20,
    name:'Rosetta REF2015 (REU)',nameLocation:'middle',nameGap:44,nameRotate:90,
    nameTextStyle:{fontFamily:'Noto Sans',fontSize:20,color:'#111'},
    axisLine:line,splitLine:{show:false},
    axisTick:{show:true,inside:true,length:3,lineStyle:{color:axisColor}},
    axisLabel:{...tickFont,margin:5,showMinLabel:true,showMaxLabel:true,formatter:v=>String(v).replace('-','\u2212')}});
  option.yAxis.push({gridIndex:g,type:'value',position:'right',min:yMin,max:yMax,interval:20,
    axisLine:line,splitLine:{show:false},
    axisTick:{show:true,inside:true,length:3,lineStyle:{color:axisColor}},axisLabel:{show:false}});
  const base={type:'scatter',xAxisIndex:xIdx,yAxisIndex:yIdx,silent:true,animation:false,symbol:ELL};
  clouds[c].forEach((d,i)=>option.series.push({...base,name:'Decoys',data:d,
    symbolSize:[sizes.core,sizes.edge,sizes.dot][i],itemStyle:{color:grayColor,opacity:1}}));
  sets.forEach((d,i)=>option.series.push({...base,name:seriesNames[i],data:d,
    symbolSize:sizes.dot,itemStyle:{color:seriesColors[i],opacity:1}}));
  option.legend.push({orient:'vertical',left:l+198,top:t+10,itemWidth:26.7,itemHeight:6,itemGap:3.4,
    selectedMode:false,padding:0,
    textStyle:{fontFamily:'DejaVu Sans',fontSize:14,color:'#222',padding:[0,0,0,8]},
    data:seriesNames.map(n=>({name:n,icon:LEGEND_ICON}))});
}));

const headX=[200,612.5,1025];
const rowBase=[358,671.5,985,1298.5,1612];
const rowWidthScale=[1.43,1.45,1.485,1.46,1.49];
columnTitles.forEach((s,i)=>option.graphic.push({type:'text',x:headX[i],y:45,scaleX:1.42,silent:true,
  style:{text:s,font:'bold 33px "Liberation Serif"',fill:'#000',textAlign:'center',textVerticalAlign:'bottom'}}));
rowTitles.forEach((s,i)=>option.graphic.push({type:'text',x:612,y:rowBase[i],scaleX:rowWidthScale[i],silent:true,
  style:{text:s,font:'bold 33px "Liberation Serif"',fill:'#000',textAlign:'center',textVerticalAlign:'bottom'}}));

echarts.init(document.getElementById('c'),null,{renderer:'canvas'}).setOption(option);
</script></body></html>
